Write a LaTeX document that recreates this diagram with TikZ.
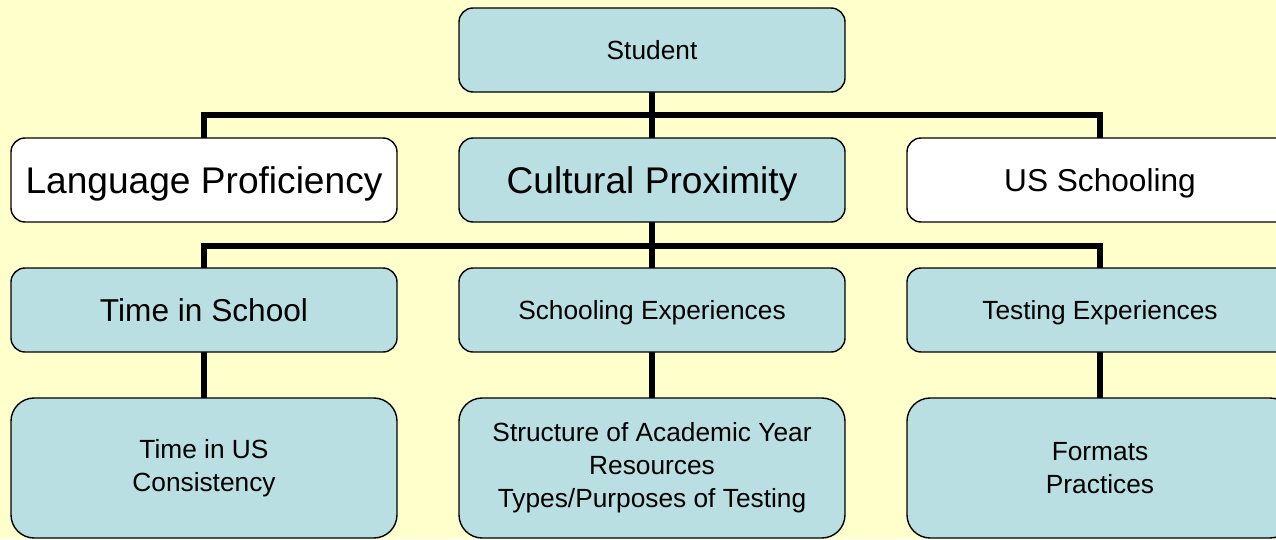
\documentclass[tikz,border=0pt]{standalone}
\usepackage{fontspec}
\setmainfont{Liberation Sans}
\usepackage{tikz}
\usetikzlibrary{positioning,backgrounds}
\definecolor{paper}{HTML}{FFFFCC}
\definecolor{tealfill}{HTML}{B9DFE2}

\begin{document}
\begin{tikzpicture}[
    box/.style={rectangle, rounded corners=0.35cm, draw, line width=1pt,
                minimum width=9.65cm, minimum height=2.1cm,
                align=center, fill=tealfill},
    plainbox/.style={box, fill=white},
    leafbox/.style={box, rounded corners=0.58cm, minimum height=3.5cm,
                    font=\fontsize{18.7}{23.5}\selectfont},
    big/.style={font=\fontsize{26.4}{31}\selectfont, text height=19pt, text depth=0pt},
    mid/.style={font=\fontsize{22.5}{27}\selectfont, text height=16.2pt, text depth=0pt},
    small/.style={font=\fontsize{18.7}{23.5}\selectfont, text height=13.5pt, text depth=0pt},
    link/.style={line width=4.3pt, line join=miter}
]
    \useasboundingbox (0,0) rectangle (31.9,-13.475);
    \begin{pgfonlayer}{background}
        \fill[paper] (0,0) rectangle (31.9,-13.475);
    \end{pgfonlayer}
    \clip (0,0) rectangle (31.9,-13.475);

    % top
    \node[box, small] (student) at (16.3,-1.25) {Student};

    % second row
    \node[plainbox, big] (lang) at (5.1,-4.5) {Language Proficiency};
    \node[box, big] (culture) at (16.3,-4.5) {Cultural Proximity};
    \node[plainbox, mid] (usschool) at (27.5,-4.5) {US Schooling};

    % third row
    \node[box, mid] (timeschool) at (5.1,-7.75) {Time in School};
    \node[box, small] (schoolexp) at (16.3,-7.75) {Schooling Experiences};
    \node[box, small] (testexp) at (27.5,-7.75) {Testing Experiences};

    % leaves
    \node[leafbox] (timeus) at (5.1,-11.7) {Time in US\\Consistency};
    \node[leafbox] (structure) at (16.3,-11.7)
        {Structure of Academic Year\\Resources\\Types/Purposes of Testing};
    \node[leafbox] (formats) at (27.5,-11.7) {Formats\\Practices};

    % connectors, behind the boxes
    \coordinate (bus1) at (16.3,-2.875);
    \coordinate (bus2) at (16.3,-6.15);
    \begin{pgfonlayer}{background}
        \draw[link] (student.center) -- (culture.center);
        \draw[link] (lang.center) |- (bus1) -| (usschool.center);
        \draw[link] (culture.center) -- (schoolexp.center);
        \draw[link] (timeschool.center) |- (bus2) -| (testexp.center);
        \draw[link] (timeschool.center) -- (timeus.center);
        \draw[link] (schoolexp.center) -- (structure.center);
        \draw[link] (testexp.center) -- (formats.center);
    \end{pgfonlayer}
\end{tikzpicture}
\end{document}
